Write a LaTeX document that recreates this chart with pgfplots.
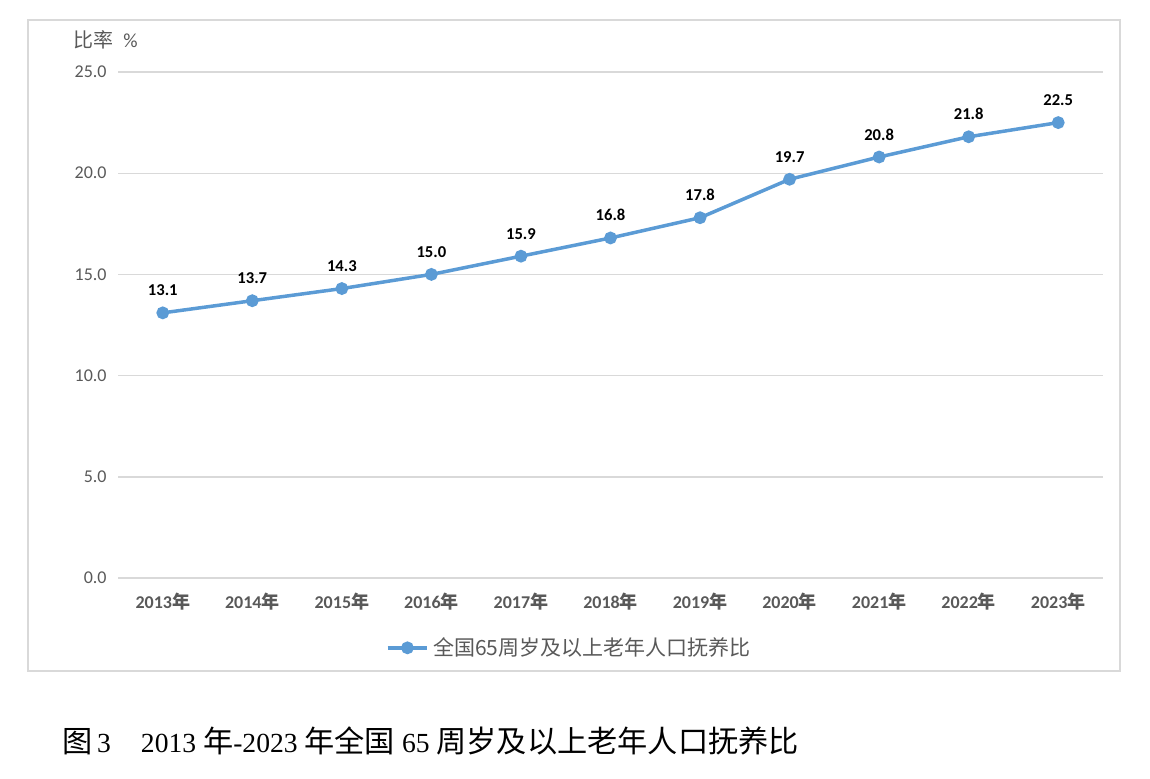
\documentclass[border=0pt]{standalone}
\usepackage{pgfplots}
\pgfplotsset{compat=1.18}
\usepackage{fontspec}
\setmainfont{Carlito}
\newfontfamily\cjk{Noto Sans CJK SC}
\newfontfamily\capfont{Liberation Serif}
\definecolor{lineblue}{HTML}{5B9BD5}
\definecolor{txtgray}{HTML}{595959}
\definecolor{gridgray}{HTML}{D9D9D9}
\begin{document}
\begin{tikzpicture}
\useasboundingbox (0,0) rectangle (575pt,389pt);
\draw[gridgray, line width=0.7pt] (14pt,53.5pt) rectangle (560pt,379pt);
\begin{axis}[
  at={(59pt,100pt)}, anchor=south west,
  scale only axis, width=492.5pt, height=253pt,
  xmin=-0.5, xmax=10.5, ymin=0, ymax=25,
  xtick={0,...,10},
  xticklabels={2013{\cjk\bfseries 年},2014{\cjk\bfseries 年},2015{\cjk\bfseries 年},2016{\cjk\bfseries 年},2017{\cjk\bfseries 年},2018{\cjk\bfseries 年},2019{\cjk\bfseries 年},2020{\cjk\bfseries 年},2021{\cjk\bfseries 年},2022{\cjk\bfseries 年},2023{\cjk\bfseries 年}},
  ytick={0,5,10,15,20,25},
  axis line style={draw=none},
  major tick length=0pt,
  ymajorgrids,
  major grid style={gridgray, line width=0.7pt},
  xticklabel style={anchor=center, inner sep=0pt, yshift=-12pt, font=\fontsize{9}{10}\selectfont\bfseries, text=txtgray},
  yticklabel style={anchor=east, inner sep=0pt, xshift=-5.5pt, font=\fontsize{9}{10}\selectfont, text=txtgray,
    /pgf/number format/.cd, fixed, fixed zerofill, precision=1, assume math mode=true},
  nodes near coords={\pgfmathprintnumber[fixed,fixed zerofill,precision=1,assume math mode=true]{\pgfplotspointmeta}},
  every node near coord/.append style={anchor=base, inner sep=0pt, yshift=8.5pt, font=\fontsize{8.3}{9}\selectfont\bfseries, text=black},
  legend style={at={(0.459,-0.138)}, anchor=center, draw=none, fill=none, font=\cjk\fontsize{10.5}{12}\selectfont, text=txtgray, inner sep=1pt},
  legend image code/.code={\draw[mark repeat=2,mark phase=2] plot coordinates {(0cm,0cm) (0.35cm,0cm) (0.7cm,0cm)};},
  clip=false,
]
\addplot[color=lineblue, line width=1.75pt, mark=*, mark size=2.3pt, mark options={fill=lineblue, draw=lineblue}]
  coordinates {(0,13.1) (1,13.7) (2,14.3) (3,15.0) (4,15.9) (5,16.8) (6,17.8) (7,19.7) (8,20.8) (9,21.8) (10,22.5)};
\addlegendentry{全国65周岁及以上老年人口抚养比}
\end{axis}
\node[anchor=west, inner sep=0pt, text=txtgray, font=\fontsize{10}{12}\selectfont] at (36.5pt,369pt) {{\cjk 比率}\hspace{5pt}\%};
\node[anchor=base west, inner sep=0pt, font=\fontsize{13.8}{15}\selectfont\capfont] at (31pt,13pt)
  {{\cjk\fontsize{15.1}{16}\selectfont 图}\,3\hspace{15pt}2013 {\cjk\fontsize{15.1}{16}\selectfont 年}-2023 {\cjk\fontsize{15.1}{16}\selectfont 年全国} 65 {\cjk\fontsize{15.1}{16}\selectfont 周岁及以上老年人口抚养比}};
\end{tikzpicture}
\end{document}
